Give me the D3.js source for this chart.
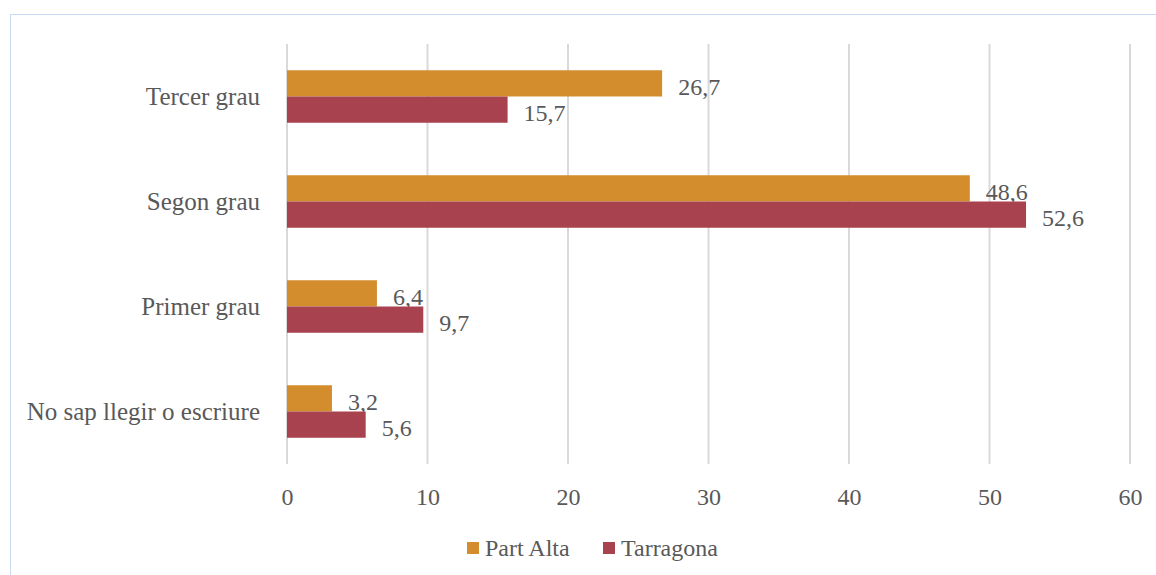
<!DOCTYPE html>
<meta charset="utf-8">
<script src="https://d3js.org/d3.v7.min.js"></script>
<style>
  body { margin: 0; background: #fff; }
  text { font-family: "Liberation Serif", "DejaVu Serif", serif; fill: #595959; }
</style>
<div id="chart"></div>
<script>
// data
var categories = ["Tercer grau", "Segon grau", "Primer grau", "No sap llegir o escriure"];
var seriesNames = ["Part Alta", "Tarragona"];
var partAlta = [26.7, 48.6, 6.4, 3.2];
var tarragona = [15.7, 52.6, 9.7, 5.6];
var xTicks = [0, 10, 20, 30, 40, 50, 60];
var colors = ["#D38D2C", "#A9424F"];

var W = 1156, H = 575;
var fs = "24px";
var svg = d3.select("#chart").append("svg")
    .attr("width", W)
    .attr("height", H);

// chart border
svg.append("rect")
    .attr("x", 10.5).attr("y", 14.5)
    .attr("width", W).attr("height", H)
    .attr("fill", "none")
    .attr("stroke", "#c9daf2")
    .attr("stroke-width", 1);

var x = d3.scaleLinear().domain([0, 60]).range([287, 1130]);
var y = d3.scaleBand().domain(categories).range([44, 464]).padding(0);
var step = y.bandwidth();
var barH = step / 4;

// gridlines
svg.append("g").selectAll("line")
  .data(xTicks)
  .enter().append("line")
    .attr("x1", function(d) { return x(d); })
    .attr("x2", function(d) { return x(d); })
    .attr("y1", 44).attr("y2", 464)
    .attr("stroke", "#d9d9d9")
    .attr("stroke-width", 2);

// x axis labels
var xAxis = svg.append("g")
    .attr("transform", "translate(0,464)")
    .call(d3.axisBottom(x).tickValues(xTicks).tickSize(0).tickPadding(24));
xAxis.select(".domain").remove();
xAxis.selectAll("text")
    .style("font-size", fs)
    .attr("fill", "#595959")
    .style("font-family", "Liberation Serif, serif");

// category labels
svg.append("g").selectAll("text")
  .data(categories)
  .enter().append("text")
    .attr("x", 260)
    .attr("y", function(d) { return y(d) + step / 2; })
    .attr("dy", "0.35em")
    .attr("text-anchor", "end")
    .style("font-size", "25px")
    .text(function(d) { return d; });

var series = [partAlta, tarragona];
series.forEach(function(vals, si) {
  var g = svg.append("g");
  g.selectAll("rect")
    .data(vals)
    .enter().append("rect")
      .attr("x", x(0))
      .attr("y", function(d, i) { return y(categories[i]) + step / 4 + si * barH; })
      .attr("width", function(d) { return x(d) - x(0); })
      .attr("height", barH)
      .attr("fill", colors[si]);
  g.selectAll("text")
    .data(vals)
    .enter().append("text")
      .attr("x", function(d) { return x(d) + 16; })
      .attr("y", function(d, i) { return y(categories[i]) + step / 4 + si * barH + barH / 2 + 3; })
      .attr("dy", "0.35em")
      .style("font-size", fs)
      .text(function(d) { return String(d).replace(".", ","); });
});

// legend
var legend = svg.append("g").attr("transform", "translate(467,548)");
var lx = [0, 136];
seriesNames.forEach(function(name, i) {
  legend.append("rect")
    .attr("x", lx[i]).attr("y", -6)
    .attr("width", 12).attr("height", 12)
    .attr("fill", colors[i]);
  legend.append("text")
    .attr("x", lx[i] + 18).attr("y", 0)
    .attr("dy", "0.35em")
    .style("font-size", fs)
    .text(name);
});
</script>
